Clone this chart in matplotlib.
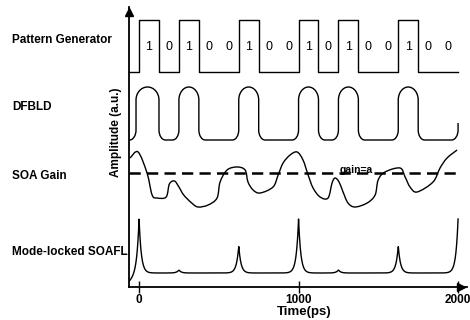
import numpy as np
import matplotlib
matplotlib.use("Agg")
import matplotlib.pyplot as plt
from matplotlib.path import Path
from matplotlib.patches import PathPatch

plt.rcParams['font.family'] = ['Liberation Sans', 'DejaVu Sans']

# ---------------- data ----------------
# bit pattern from the pattern generator, 125 ps per bit
bits = [1, 0, 1, 0, 0, 1, 0, 0, 1, 0, 1, 0, 0, 1, 0, 0]
bit_period = 125
pg_low, pg_high = 215, 267
bit_label_y = 240

# DFBLD output: rising/falling edges (ps) and levels
dfb_edges = [-19, 125, 250, 375, 625, 750, 1000, 1125, 1250, 1375, 1625, 1750, 2000]
dfb_low, dfb_high = 147, 200
dfb_end = 164

# SOA gain curve (ps, a.u.)
soa_t = [-56, -6, 50, 82, 113, 170, 190, 222, 250, 280, 330, 370, 433, 489, 508,
         552, 614, 665, 683, 715, 759, 840, 872, 903, 947, 991, 1028, 1060,
         1091, 1135, 1185, 1210, 1229, 1254, 1279, 1310, 1354, 1430, 1480,
         1499, 1542, 1636, 1668, 1699, 1743, 1843, 1887, 1931, 1994]
soa_a = [129, 135, 114, 92, 89, 90, 103, 106, 100, 92, 84, 80, 82, 89, 105,
         117, 120, 117, 105, 97, 94, 100, 112, 124, 132, 135, 127, 112,
         99, 90, 89, 104, 109, 105, 95, 84, 80, 84, 92,
         107, 115, 119, 110, 100, 95, 105, 119, 129, 137]
gain_level = 114

# mode-locked SOAFL pulses
pulse_t = [0, 250, 625, 1000, 1250, 1625, 2000]
pulse_h = [54, 3, 27, 54, 3, 27, 54]
ml_base = 14
ml_start = 5

trace_names = ["Pattern Generator", "DFBLD", "SOA Gain", "Mode-locked SOAFL"]
trace_name_y = [40, 107, 176, 252]   # pixel rows of the left labels

t_min, t_max = -63, 2056

fig = plt.figure(figsize=(4.7, 3.2), dpi=100)
ax = fig.add_axes([129 / 470, 1 - 287 / 320, 338 / 470, 280 / 320])
ax.set_xlim(t_min, t_max)
ax.set_ylim(0, 280)

lw = 1.0

# pattern generator (step)
pg_x = [t_min] + [i * bit_period for i in range(len(bits))] + [len(bits) * bit_period]
pg_y = [pg_low] + [pg_high if b else pg_low for b in bits] + [pg_high if bits[-1] else pg_low]
ax.plot(pg_x, pg_y, drawstyle='steps-post', color='black', lw=lw)
for i, b in enumerate(bits):
    ax.text((i + 0.5) * bit_period, bit_label_y, str(b), ha='center', va='center',
            fontsize=9)


# DFBLD: square wave with rounded corners
def rounded_wave(edges, lo, hi, t0, y_end, ry_top=13, ry_bot=10, rx_bot=40):
    k = 0.5523
    verts = [(t0, lo)]
    codes = [Path.MOVETO]
    bounds = [t0] + edges

    def corner(P, d_in, d_out, l_in, l_out):
        P = np.array(P, float)
        d_in = np.array(d_in, float)
        d_out = np.array(d_out, float)
        A = P - d_in * l_in
        B = P + d_out * l_out
        C1 = A + d_in * k * l_in
        C2 = B - d_out * k * l_out
        verts.extend([tuple(A), tuple(C1), tuple(C2), tuple(B)])
        codes.extend([Path.LINETO, Path.CURVE4, Path.CURVE4, Path.CURVE4])

    for i, e in enumerate(edges):
        rising = i % 2 == 0
        w_before = e - bounds[i]
        w_after = edges[i + 1] - e if i + 1 < len(edges) else None
        if rising:
            corner((e, lo), (1, 0), (0, 1), min(rx_bot, w_before), ry_bot)
            if w_after is None:
                verts.append((e, y_end))
                codes.append(Path.LINETO)
            else:
                corner((e, hi), (0, 1), (1, 0), ry_top, w_after / 2)
        else:
            corner((e, hi), (1, 0), (0, -1), w_before / 2, ry_top)
            corner((e, lo), (0, -1), (1, 0), ry_bot, min(rx_bot, w_after / 2))
    return Path(verts, codes)


ax.add_patch(PathPatch(rounded_wave(dfb_edges, dfb_low, dfb_high, t_min, dfb_end),
                       fill=False, ec='black', lw=lw))


# SOA gain: smooth curve through the points (Catmull-Rom as cubic Beziers)
def smooth_path(xs, ys):
    P = np.column_stack([xs, ys]).astype(float)
    n = len(P)
    verts = [tuple(P[0])]
    codes = [Path.MOVETO]
    for i in range(n - 1):
        p0 = P[i - 1] if i > 0 else P[i]
        p1, p2 = P[i], P[i + 1]
        p3 = P[i + 2] if i + 2 < n else P[i + 1]
        c1 = p1 + (p2 - p0) / 6
        c2 = p2 - (p3 - p1) / 6
        verts.extend([tuple(c1), tuple(c2), tuple(p2)])
        codes.extend([Path.CURVE4] * 3)
    return Path(verts, codes)


ax.add_patch(PathPatch(smooth_path(soa_t, soa_a), fill=False, ec='black', lw=lw))
ax.plot([t_min, 2000], [gain_level, gain_level], color='black', lw=1.8,
        dashes=(4.5, 2.5))
ax.text(1360, gain_level + 3, "gain=a", ha='center', va='center', fontsize=7.5,
        fontweight='bold')

# mode-locked SOAFL pulse train
t = np.linspace(t_min, 2000, 2000)
base = np.where(t < 0, ml_base + (ml_base - ml_start) * t / (-t_min), ml_base)
ml = base.copy()
for tp, h in zip(pulse_t, pulse_h):
    ml += h * np.exp(-np.abs(t - tp) / 14)
ax.plot(t, ml, color='black', lw=lw)

# axes with arrows
for s in ['top', 'right']:
    ax.spines[s].set_visible(False)
for s in ['left', 'bottom']:
    ax.spines[s].set_linewidth(1.3)
ax.plot(t_min, 275, marker='^', color='black', ms=6, clip_on=False)
ax.plot(t_max - 35, 0, marker='>', color='black', ms=6, clip_on=False)

ax.set_yticks([])
ax.set_xticks([0, 1000, 2000])
ax.set_xticklabels([])
ax.tick_params(axis='x', direction='inout', length=9, width=1)
for tv, lab in zip([0, 1000, 2000], ["0", "1000", "2000"]):
    ax.text(tv, -13, lab, ha='center', va='center', fontsize=8.5,
            fontweight='bold', clip_on=False)

fig.text(304 / 470, 1 - 312 / 320, "Time(ps)", ha='center', va='center',
         fontsize=9.5, fontweight='bold')
fig.text(116 / 470, 1 - 132 / 320, "Amplitude (a.u.)", rotation=90, ha='center',
         va='center', fontsize=8.5, fontweight='bold')
for name, py in zip(trace_names, trace_name_y):
    fig.text(12 / 470, 1 - py / 320, name, ha='left', va='center', fontsize=8.5,
             fontweight='bold')

fig.savefig("out.png", dpi=100)
